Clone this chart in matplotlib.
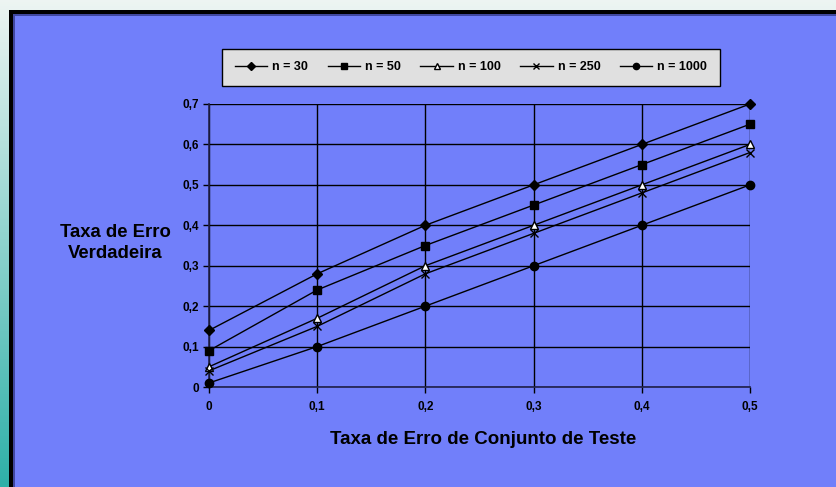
import numpy as np
import matplotlib
matplotlib.use("Agg")
import matplotlib.pyplot as plt
from matplotlib.patches import Rectangle

plt.rcParams['font.family'] = ['Liberation Sans', 'DejaVu Sans']
plt.rcParams['font.weight'] = 'bold'

taxa_teste = [0, 0.1, 0.2, 0.3, 0.4, 0.5]
n30 = [0.14, 0.28, 0.40, 0.50, 0.60, 0.70]
n50 = [0.09, 0.24, 0.35, 0.45, 0.55, 0.65]
n100 = [0.05, 0.17, 0.30, 0.40, 0.50, 0.60]
n250 = [0.04, 0.15, 0.28, 0.38, 0.48, 0.58]
n1000 = [0.01, 0.10, 0.20, 0.30, 0.40, 0.50]
rotulos = ['n = 30', 'n = 50', 'n = 100', 'n = 250', 'n = 1000']

W, H = 837, 487
fig = plt.figure(figsize=(W / 100, H / 100), dpi=100)

# fundo em degradê + moldura
bg = fig.add_axes([0, 0, 1, 1])
bg.set_xlim(0, W)
bg.set_ylim(0, H)
bg.axis('off')
grad = np.linspace(0, 1, 256).reshape(-1, 1)
topo = np.array([0.93, 0.96, 0.95])
base = np.array([0.18, 0.69, 0.66])
img = (1 - grad)[..., None] * base + grad[..., None] * topo
bg.imshow(img, extent=[0, W, 0, H], origin='lower', aspect='auto')
bg.add_patch(Rectangle((9, -5), W, H - 10 + 5, facecolor='black', edgecolor='none'))
bg.add_patch(Rectangle((13, -5), W, H - 14 + 5, facecolor='#4048a0', edgecolor='none'))
bg.add_patch(Rectangle((15, -5), W, H - 16 + 5, facecolor='#717ffa', edgecolor='none'))

ax = fig.add_axes([209 / W, (H - 387) / H, (750 - 209) / W, (387 - 104) / H])
ax.set_facecolor('none')

estilos = [
    dict(marker='D', markersize=5, markerfacecolor='black'),
    dict(marker='s', markersize=6, markerfacecolor='black'),
    dict(marker='^', markersize=6, markerfacecolor='white'),
    dict(marker='x', markersize=6, markeredgewidth=1),
    dict(marker='o', markersize=6, markerfacecolor='black'),
]
series = [n30, n50, n100, n250, n1000]
for s, rot, est in zip(series, rotulos, estilos):
    ax.plot(taxa_teste, s, color='black', lw=1, markeredgecolor='black',
            label=rot, clip_on=False, zorder=3, **est)

ax.set_xlim(0, 0.5)
ax.set_ylim(0, 0.7)
ax.set_xticks(taxa_teste)
ax.set_yticks(np.arange(0, 0.71, 0.1))
ax.set_xticklabels(['0' if v == 0 else f'{v:.1f}'.replace('.', ',') for v in taxa_teste])
ax.set_yticklabels(['0' if v < 0.01 else f'{v:.1f}'.replace('.', ',') for v in np.arange(0, 0.71, 0.1)])
ax.tick_params(labelsize=8.5, length=4, width=1, color='black', pad=3)
ax.tick_params(axis='x', pad=6)
ax.grid(True, color='black', lw=1)
for lado in ['top', 'right']:
    ax.spines[lado].set_visible(False)
for lado in ['left', 'bottom']:
    ax.spines[lado].set_color('#20204a')
    ax.spines[lado].set_linewidth(1.2)

fig.text(483 / W, 1 - 439 / H, 'Taxa de Erro de Conjunto de Teste',
         ha='center', va='center', fontsize=13.5, fontweight='bold')
fig.text(115 / W, 1 - 243 / H, 'Taxa de Erro\nVerdadeira', ha='center', va='center',
         fontsize=13.3, fontweight='bold', linespacing=1.38)

leg = fig.legend(loc='center', bbox_to_anchor=(471 / W, 1 - 67 / H), ncol=5,
                 fontsize=9, frameon=True, fancybox=False, handlelength=2.6,
                 columnspacing=1.55, handletextpad=0.4, borderpad=1.0,
                 borderaxespad=0)
leg.get_frame().set_facecolor('#e0e0e0')
leg.get_frame().set_edgecolor('black')
leg.get_frame().set_alpha(1)
for h in leg.legend_handles:
    h.set_markersize(4.5)

fig.savefig('out.png', dpi=100)
